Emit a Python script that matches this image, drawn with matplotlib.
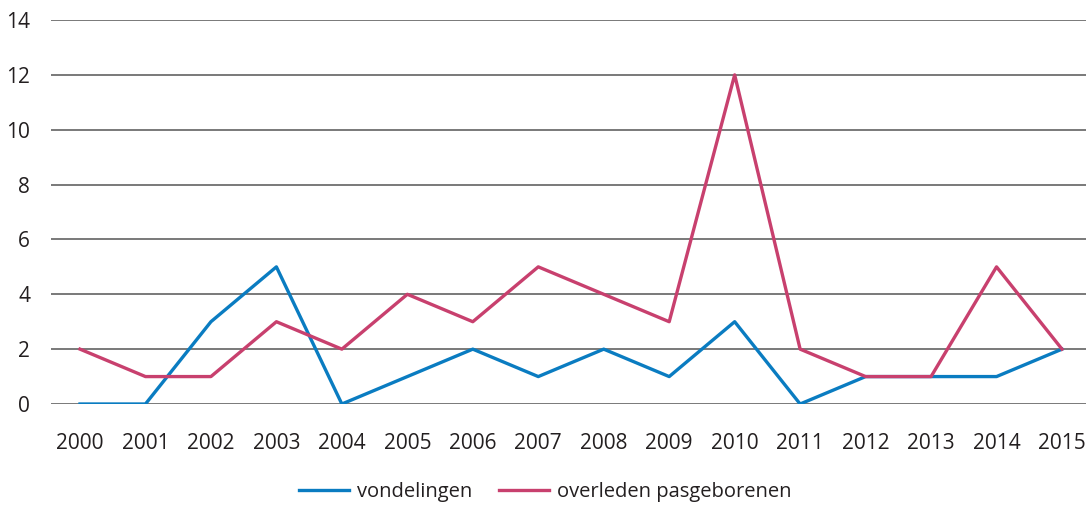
import matplotlib.pyplot as plt

years = list(range(2000, 2016))
vondelingen = [0, 0, 3, 5, 0, 1, 2, 1, 2, 1, 3, 0, 1, 1, 1, 2]
overleden = [2, 1, 1, 3, 2, 4, 3, 5, 4, 3, 12, 2, 1, 1, 5, 2]
yticks = [0, 2, 4, 6, 8, 10, 12, 14]

plt.rcParams['font.family'] = ['Open Sans', 'DejaVu Sans']

fig = plt.figure(figsize=(10.86, 5.05), dpi=100)
ax = fig.add_axes([51 / 1086, 1 - 404 / 505, 1035 / 1086, 384 / 505])

for y in yticks:
    ax.axhline(y, color='#555555', linewidth=1.1, zorder=1)

ax.plot(years, vondelingen, color='#0a7cc1', linewidth=2.4, label='vondelingen', zorder=3)
ax.plot(years, overleden, color='#c8406e', linewidth=2.4, label='overleden pasgeborenen', zorder=3)

ax.set_ylim(0, 14)
ax.set_xlim(2000 - 29 / 65.47, 2015 + 24 / 65.47)
ax.set_yticks(yticks)
ax.set_xticks(years)
ax.set_xticklabels([str(y) for y in years])
ax.tick_params(axis='both', length=0, labelsize=15, colors='#231f20')
ax.tick_params(axis='y', pad=15)
ax.tick_params(axis='x', pad=21)
for s in ax.spines.values():
    s.set_visible(False)

leg = fig.legend(loc='center', bbox_to_anchor=(0.502, 1 - 492 / 505), ncol=2,
                 frameon=False, fontsize=14.5, handlelength=2.5, columnspacing=1.3,
                 handletextpad=0.4)
for t in leg.get_texts():
    t.set_color('#231f20')

fig.savefig('out.png', dpi=100)
